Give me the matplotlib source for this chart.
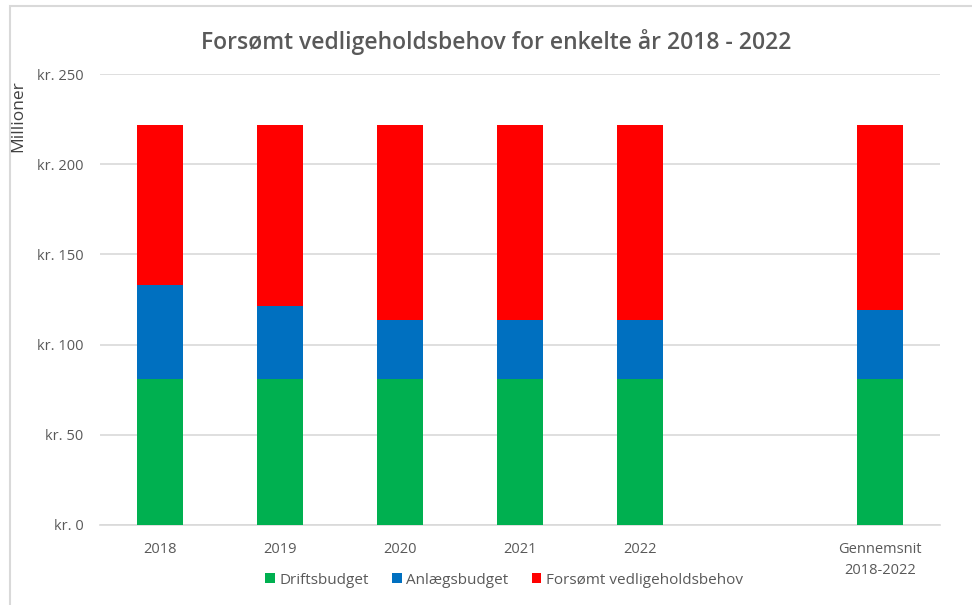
import matplotlib
matplotlib.use("Agg")
import matplotlib.pyplot as plt
from matplotlib.patches import Rectangle
import numpy as np

categories = ["2018", "2019", "2020", "2021", "2022", "", "Gennemsnit\n2018-2022"]
drift = [80.7, 80.7, 80.7, 80.7, 80.7, np.nan, 80.7]
anlaeg = [52.3, 40.7, 32.9, 32.9, 32.9, np.nan, 38.5]
forsoemt = [88.8, 100.4, 108.2, 108.2, 108.2, np.nan, 102.6]
series_names = ["Driftsbudget", "Anlægsbudget", "Forsømt vedligeholdsbehov"]
colors = ["#00B050", "#0070C0", "#FF0000"]
yticks = [0, 50, 100, 150, 200, 250]

plt.rcParams['font.family'] = ['Open Sans', 'DejaVu Sans']
txt = "#595959"

fig = plt.figure(figsize=(9.72, 6.05), dpi=100)
ax = fig.add_axes([100/972, 80/605, 840/972, 451/605])

x = np.arange(len(categories))
d = np.array(drift, dtype=float)
a = np.array(anlaeg, dtype=float)
f = np.array(forsoemt, dtype=float)
w = 0.39
ax.bar(x, d, w, color=colors[0], label=series_names[0], zorder=3)
ax.bar(x, a, w, bottom=d, color=colors[1], label=series_names[1], zorder=3)
ax.bar(x, f, w, bottom=d + a, color=colors[2], label=series_names[2], zorder=3)

ax.set_xlim(-0.5, len(categories) - 0.5)
ax.set_ylim(0, 250)
ax.set_yticks(yticks)
ax.set_yticklabels([f"kr. {v}" for v in yticks])
ax.set_xticks(x)
ax.set_xticklabels(categories, linespacing=1.6)
ax.grid(axis='y', color='#D9D9D9', linewidth=1.2, zorder=0)
for s in ['top', 'right', 'left']:
    ax.spines[s].set_visible(False)
ax.spines['bottom'].set_color('#D9D9D9')
ax.spines['bottom'].set_linewidth(1.2)
ax.tick_params(axis='both', length=0, colors=txt, labelsize=10.5)
ax.tick_params(axis='x', pad=12)
ax.tick_params(axis='y', pad=12)

fig.text(18/972, 1 - 116/605, "Millioner", rotation=90, ha='center', va='center',
         color='#404040', fontsize=12.5)
fig.text(496/972, 1 - 42/605, "Forsømt vedligeholdsbehov for enkelte år 2018 - 2022",
         ha='center', va='center', color=txt, fontsize=16.5, fontweight='semibold')

leg = fig.legend(loc='center', bbox_to_anchor=(504/972, 1 - 580/605), ncol=3, frameon=False,
                 fontsize=11, handlelength=0.65, handleheight=0.65, handletextpad=0.3,
                 columnspacing=1.5)
for t in leg.get_texts():
    t.set_color(txt)

fig.patches.append(Rectangle((10/972, -0.1), 1.2, 1 - 6/605 + 0.1, transform=fig.transFigure,
                             fill=False, edgecolor='#D9D9D9', linewidth=1.5))

fig.savefig("out.png", dpi=100)
